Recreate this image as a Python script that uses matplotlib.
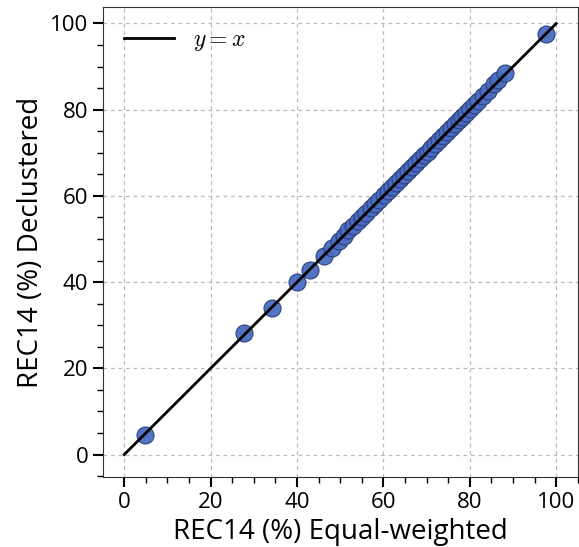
import matplotlib
matplotlib.use("Agg")
from matplotlib import pyplot as plt
from matplotlib.ticker import MultipleLocator

# REC14 por estación: ponderado igual vs. desagrupado
equal_weighted = [4.8, 27.8, 34.3, 40.1, 42.9, 46.2, 48.2, 49.6, 50.8, 51.9, 53.0,
                  54.1, 55.0, 56.0, 57.1, 58.0, 59.0, 60.1, 61.0, 62.0, 63.0, 63.9,
                  64.8, 65.7, 66.6, 67.5, 68.4, 69.3, 70.2, 71.1, 72.0, 72.9, 73.8,
                  74.7, 75.6, 76.5, 77.4, 78.3, 79.2, 80.1, 81.0, 82.0, 83.0, 84.2,
                  85.6, 86.5, 88.2, 97.6]
declustered = [4.6, 28.3, 34.1, 40.1, 42.8, 46.0, 48.0, 49.5, 50.8, 52.0, 53.1,
               54.2, 55.1, 56.1, 57.2, 58.1, 59.1, 60.2, 61.1, 62.1, 63.1, 64.0,
               64.9, 65.8, 66.7, 67.6, 68.5, 69.4, 70.3, 71.2, 72.1, 73.0, 73.9,
               74.8, 75.7, 76.6, 77.5, 78.4, 79.3, 80.2, 81.1, 82.1, 83.1, 84.3,
               86.0, 86.8, 88.4, 97.5]

plt.rcParams['font.family'] = ['Open Sans', 'DejaVu Sans']
plt.rcParams['mathtext.fontset'] = 'cm'

fig = plt.figure(figsize=(5.79, 5.47), dpi=100)
ax = fig.add_axes([0.178, 0.128, 0.82, 0.859])

ax.plot([0, 100], [0, 100], color='black', lw=2, label=r'$y=x$', zorder=3)
ax.scatter(equal_weighted, declustered, s=150, color='#4a6cc0',
           edgecolors='#2a3d7a', linewidths=0.8, alpha=0.95, zorder=2)

ax.set_xlim(-4.9, 105)
ax.set_ylim(-5.2, 103.8)
ax.xaxis.set_major_locator(MultipleLocator(20))
ax.yaxis.set_major_locator(MultipleLocator(20))
ax.xaxis.set_minor_locator(MultipleLocator(5))
ax.yaxis.set_minor_locator(MultipleLocator(5))
ax.tick_params(which='major', length=7, width=1.5, labelsize=16, direction='out')
ax.tick_params(which='minor', length=4, width=1, direction='out')
ax.grid(True, which='major', linestyle=(0, (3, 3)), color='#bbbbbb', lw=0.9)
ax.set_axisbelow(True)
for s in ax.spines.values():
    s.set_color('#333333')

ax.set_xlabel('REC14 (%) Equal-weighted', fontsize=20)
ax.set_ylabel('REC14 (%) Declustered', fontsize=20)
ax.legend(loc='upper left', frameon=False, fontsize=17, handlelength=2.1)

plt.savefig('out.png', dpi=100)
